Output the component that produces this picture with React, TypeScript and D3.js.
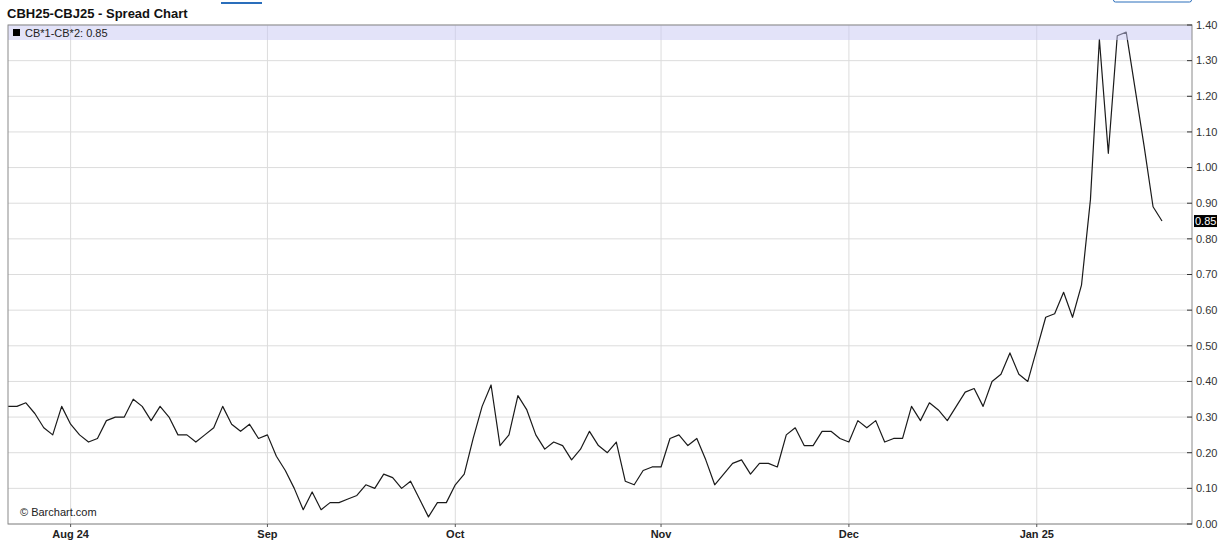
import React from "react";
import * as d3 from "d3";

// daily settlement spread CB*1 - CB*2, one value per trading day (late Jul 2024 .. mid Jan 2025)
const spreadValues = [
  0.33, 0.33, 0.34, 0.31, 0.27, 0.25, 0.33, 0.28, 0.25, 0.23,
  0.24, 0.29, 0.30, 0.30, 0.35, 0.33, 0.29, 0.33, 0.30, 0.25,
  0.25, 0.23, 0.25, 0.27, 0.33, 0.28, 0.26, 0.28, 0.24, 0.25,
  0.19, 0.15, 0.10, 0.04, 0.09, 0.04, 0.06, 0.06, 0.07, 0.08,
  0.11, 0.10, 0.14, 0.13, 0.10, 0.12, 0.07, 0.02, 0.06, 0.06,
  0.11, 0.14, 0.24, 0.33, 0.39, 0.22, 0.25, 0.36, 0.32, 0.25,
  0.21, 0.23, 0.22, 0.18, 0.21, 0.26, 0.22, 0.20, 0.23, 0.12,
  0.11, 0.15, 0.16, 0.16, 0.24, 0.25, 0.22, 0.24, 0.18, 0.11,
  0.14, 0.17, 0.18, 0.14, 0.17, 0.17, 0.16, 0.25, 0.27, 0.22,
  0.22, 0.26, 0.26, 0.24, 0.23, 0.29, 0.27, 0.29, 0.23, 0.24,
  0.24, 0.33, 0.29, 0.34, 0.32, 0.29, 0.33, 0.37, 0.38, 0.33,
  0.40, 0.42, 0.48, 0.42, 0.40, 0.49, 0.58, 0.59, 0.65, 0.58,
  0.67, 0.91, 1.36, 1.04, 1.37, 1.38, 1.22, 1.06, 0.89, 0.85,
];

// month labels and the trading-day index where each month starts
const monthLabels = ["Aug 24", "Sep", "Oct", "Nov", "Dec", "Jan 25"];
const monthIndex = [7, 29, 50, 73, 94, 115];

const yTicks = [0, 0.1, 0.2, 0.3, 0.4, 0.5, 0.6, 0.7, 0.8, 0.9, 1.0, 1.1, 1.2, 1.3, 1.4];

const title = "CBH25-CBJ25 - Spread Chart";
const legendLabel = "CB*1-CB*2";

const W = 1232;
const H = 551;
const left = 8;
const right = 1192;
const top = 25;
const bottom = 524;
const font = "'Liberation Sans', Arial, sans-serif";

export default function App() {
  const x = d3
    .scaleLinear()
    .domain([0, spreadValues.length - 1])
    .range([left, 1162]);
  const y = d3.scaleLinear().domain([0, 1.4]).range([bottom, top]);

  const line = d3
    .line<number>()
    .x((_, i) => x(i))
    .y((d) => y(d));

  const last = spreadValues[spreadValues.length - 1];
  const fmt = d3.format(".2f");

  return (
    <svg
      width={W}
      height={H}
      style={{ position: "absolute", left: 0, top: 0, display: "block", background: "#fff" }}
      fontFamily={font}
    >
      {/* bits of the page toolbar peeking in at the top */}
      <rect x={221} y={2} width={41} height={2} fill="#2a6ebb" />
      <rect x={1113.5} y={-20} width={78} height={22} rx={2} fill="none" stroke="#2a6ebb" strokeWidth={1} />

      <text x={7} y={18} fontSize={13} fontWeight="bold" fill="#111">
        {title}
      </text>

      {/* grid */}
      {yTicks.map((t) => (
        <line key={"gy" + t} x1={left} x2={right} y1={y(t)} y2={y(t)} stroke="#dcdcdc" strokeWidth={1} />
      ))}
      {monthIndex.map((m) => (
        <line key={"gx" + m} x1={x(m)} x2={x(m)} y1={top} y2={bottom} stroke="#dcdcdc" strokeWidth={1} />
      ))}

      <path d={line(spreadValues) || ""} fill="none" stroke="#1a1a1a" strokeWidth={1.2} strokeLinejoin="round" />

      {/* legend band drawn over the plot */}
      <rect x={left} y={top} width={right - left} height={15} fill="#c8c8f4" opacity={0.5} />
      <rect x={13} y={29} width={7} height={7} fill="#000" />
      <text x={25} y={36.5} fontSize={11} fill="#222">
        {legendLabel}: {fmt(last)}
      </text>

      {/* frame */}
      <rect x={left} y={top} width={right - left} height={bottom - top} fill="none" stroke="#8a8a8a" strokeWidth={1} />

      {/* right axis */}
      {yTicks.map((t) => (
        <g key={"ty" + t}>
          <line x1={right - 5} x2={right} y1={y(t)} y2={y(t)} stroke="#333" />
          <text x={1196} y={y(t)} dy="0.35em" fontSize={11} fill="#333">
            {fmt(t)}
          </text>
        </g>
      ))}
      <rect x={1194} y={y(last) - 6} width={23} height={12} fill="#000" />
      <text x={1195} y={y(last)} dy="0.35em" fontSize={11} fill="#fff">
        {fmt(last)}
      </text>

      {/* bottom axis */}
      {monthIndex.map((m, i) => (
        <g key={"tx" + m}>
          <line x1={x(m)} x2={x(m)} y1={bottom} y2={bottom + 3} stroke="#555" />
          <text x={x(m)} y={538} textAnchor="middle" fontSize={11} fontWeight="bold" fill="#222">
            {monthLabels[i]}
          </text>
        </g>
      ))}

      <text x={20} y={516} fontSize={11} fill="#222">
        © Barchart.com
      </text>
    </svg>
  );
}
